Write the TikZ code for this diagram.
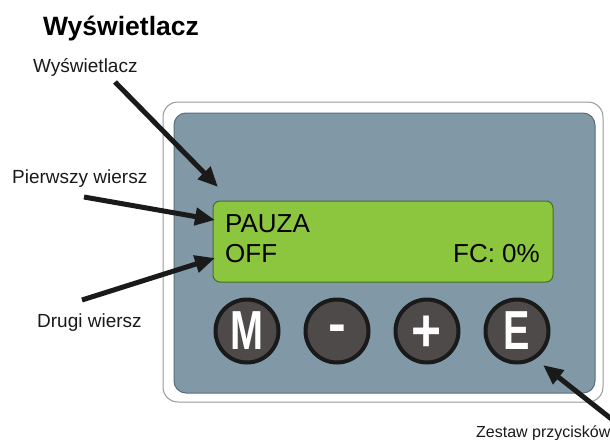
\documentclass[tikz,border=0pt]{standalone}
\usepackage{fontspec}
\setmainfont{Liberation Sans}
\usetikzlibrary{arrows.meta}
\definecolor{panel}{RGB}{129,153,167}
\definecolor{panelborder}{RGB}{90,110,122}
\definecolor{lcd}{RGB}{140,198,63}
\definecolor{lcdborder}{RGB}{70,110,40}
\definecolor{btn}{RGB}{78,74,74}
\definecolor{ink}{RGB}{26,26,26}
\tikzset{
  lbl/.style={anchor=base west, inner sep=0pt, text=ink, font=\fontsize{19}{21}\selectfont},
  lcdtext/.style={inner sep=0pt, text=black, font=\fontsize{26}{28}\selectfont},
  btnshape/.style={circle, draw=ink, line width=4pt, fill=btn, minimum size=63pt, inner sep=0pt},
  btnlabel/.style={text=white, inner sep=0pt, font=\bfseries\fontsize{55}{55}\selectfont, xscale=0.72, transform shape},
  pointer/.style={draw=ink, line width=5pt, -{Triangle[length=20pt,width=17pt]}}
}
\begin{document}
\begin{tikzpicture}[x=1pt,y=-1pt]
\useasboundingbox (0,0) rectangle (610,439);
\fill[white] (0,0) rectangle (610,439);
% housing
\draw[draw=gray!80, line width=1pt, fill=white, rounded corners=15pt] (163,102) rectangle (603,402);
\draw[draw=panelborder, line width=1pt, fill=panel, rounded corners=12pt] (174,113) rectangle (595,393);
% LCD
\node[draw=lcdborder, line width=1pt, fill=lcd, rounded corners=7pt, minimum width=340pt, minimum height=81pt, inner sep=0pt] (lcd) at (383,241.5) {};
\node[lcdtext, anchor=base west] (l1) at (225,232) {PAUZA};
\node[lcdtext, anchor=base west] (l2) at (225,262) {OFF};
\node[lcdtext, anchor=base east] (l3) at (540,262) {FC: 0\%};
% buttons
\node[btnshape] (bM) at (247,331) {};
\node[btnshape] (bMinus) at (337,331) {};
\node[btnshape] (bPlus) at (427,331) {};
\node[btnshape] (bE) at (517,331) {};
\node[btnlabel] at (bM) {M};
\node[btnlabel, xscale=1.35] at ([yshift=-3pt]bMinus) {-};
\node[btnlabel, xscale=1.3, yscale=1.1] at ([yshift=-3pt]bPlus) {+};
\node[btnlabel] at (bE) {E};
% labels
\node[anchor=base west, inner sep=0pt, font=\bfseries\fontsize{26.5}{28}\selectfont] (title) at (43,35) {Wyświetlacz};
\node[lbl] (tDisp) at (33,72) {Wyświetlacz};
\node[lbl] (tRow1) at (12,183) {Pierwszy wiersz};
\node[lbl] (tRow2) at (37,327) {Drugi wiersz};
\node[lbl, font=\fontsize{16}{18}\selectfont] (tBtn) at (476,437) {Zestaw przycisków};
% arrow endpoints
\coordinate (a1s) at (115,82);
\coordinate (a1e) at (218,187);
\coordinate (a2s) at (84,197);
\coordinate (a2e) at (215,220);
\coordinate (a3s) at (82,300);
\coordinate (a3e) at (215,258);
\coordinate (a4s) at (614,421);
\coordinate (a4e) at (543,365);
\draw[pointer] (a1s) -- (a1e);
\draw[pointer] (a2s) -- (a2e);
\draw[pointer] (a3s) -- (a3e);
\draw[pointer] (a4s) -- (a4e);
\end{tikzpicture}
\end{document}
